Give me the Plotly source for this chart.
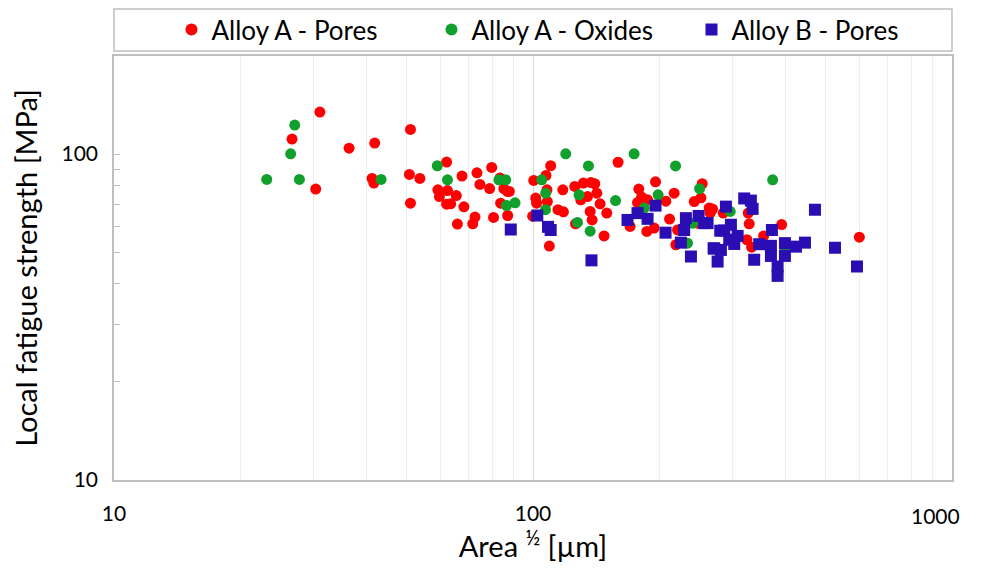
import plotly.graph_objects as go

# Alloy A - Pores (red)
a_pores_x = [31.0, 26.6, 30.3, 36.4, 41.9, 41.3, 41.7, 51.0, 50.7, 53.7, 51.0, 62.2, 59.3, 59.8, 62.5,
             62.2, 63.6, 65.6, 67.7, 68.4, 66.0, 73.5, 74.7, 72.7, 71.8, 79.7, 78.8, 80.5, 83.4, 85.2,
             87.8, 86.9, 83.7, 87.0, 100.4, 107.4, 110.2, 108.0, 101.5, 102.0, 108.2, 99.8, 109.4, 114.7,
             118.2, 117.8, 125.8, 126.3, 159.6, 131.9, 137.4, 140.4, 142.0, 130.0, 134.9, 144.6, 136.9,
             138.4, 150.0, 147.8, 178.9, 196.1, 217.2, 207.5, 177.6, 181.6, 187.7, 170.5, 186.9, 194.6,
             211.8, 221.3, 219.3, 253.4, 242.6, 251.6, 263.3, 264.8, 247.1, 268.3, 284.4, 326.3, 328.1,
             324.0, 332.4, 355.2, 392.1, 601.0]
a_pores_y = [134.6, 111.2, 78.1, 104.3, 108.1, 84.2, 81.5, 119.0, 86.6, 84.2, 70.7, 94.5, 77.7, 74.1, 77.3,
             70.2, 70.4, 74.6, 85.6, 68.9, 61.0, 87.6, 80.7, 64.1, 61.1, 91.0, 78.4, 63.9, 84.4, 78.3,
             76.8, 76.8, 70.7, 64.8, 83.0, 86.0, 92.1, 77.7, 73.3, 70.7, 71.5, 64.5, 52.2, 67.5,
             66.5, 77.7, 79.6, 61.1, 94.4, 81.5, 81.8, 81.1, 75.9, 72.4, 74.1, 70.4, 66.7,
             62.8, 65.9, 56.1, 78.1, 82.2, 75.9, 71.7, 71.0, 73.8, 72.4, 60.0, 57.9, 59.3,
             63.2, 58.5, 52.7, 81.1, 71.5, 73.4, 68.3, 65.9, 61.4, 67.8, 65.9, 65.9, 61.1,
             54.6, 51.8, 56.1, 60.8, 55.6]

# Alloy A - Oxides (green)
a_oxides_x = [27.0, 26.4, 23.15, 27.7, 43.4, 59.1, 62.5, 82.9, 86.1, 86.4, 90.6, 104.9, 107.2, 107.1,
              119.7, 127.7, 128.8, 174.3, 135.6, 218.9, 157.4, 136.9, 198.9, 249.8, 184.2, 233.8,
              373.2, 295.6, 399.3, 240.4]
a_oxides_y = [122.8, 100.2, 83.6, 83.6, 83.6, 92.1, 83.4, 83.4, 83.4, 69.5, 70.9, 83.4, 75.9, 67.5,
              100.2, 61.7, 75.0, 100.2, 92.0, 92.0, 72.0, 58.0, 75.0, 78.3, 68.3, 53.3,
              83.4, 66.7, 50.8, 61.4]

# Alloy B - Pores (blue)
b_pores_x = [88.5, 102.4, 108.6, 110.2, 137.9, 168.1, 177.6, 187.7, 196.1, 207.2, 231.7, 248.5, 256.2,
             261.0, 229.5, 225.4, 238.2, 269.8, 275.8, 279.8, 319.2, 331.1, 334.3, 288.7, 296.7, 286.0,
             307.9, 302.2, 294.0, 270.7, 280.8, 337.2, 346.7, 371.7, 369.7, 369.7, 383.5, 383.5,
             399.3, 399.3, 424.2, 445.7, 470.9, 525.7, 593.2]
b_pores_y = [58.7, 64.8, 59.8, 58.5, 47.2, 62.8, 65.9, 63.3, 69.5, 57.4, 63.6, 64.6, 61.4,
             61.4, 58.5, 53.5, 48.5, 51.4, 46.8, 58.2, 73.1, 72.0, 67.9, 69.0, 60.7, 58.3,
             56.1, 53.0, 54.6, 51.3, 50.8, 47.4, 52.9, 58.5, 52.3, 48.7, 45.2, 42.3,
             53.3, 48.7, 52.0, 53.5, 67.5, 51.6, 45.2]

x_major = [10, 100, 1000]
x_major_text = ["10", "100", ""]
x_last_label = "1000"
x_minor = [20, 30, 40, 50, 60, 70, 80, 90, 200, 300, 400, 500, 600, 700, 800, 900]
y_major = [10, 100]
y_major_text = ["10", "100"]
y_minor = [20, 30, 40, 50, 60, 70, 80, 90, 200]

FONT = "Lato, Liberation Sans, sans-serif"

fig = go.Figure()
fig.add_trace(go.Scatter(x=a_pores_x, y=a_pores_y, mode="markers", name="Alloy A - Pores",
                         marker=dict(color="#FF0000", size=11, symbol="circle")))
fig.add_trace(go.Scatter(x=a_oxides_x, y=a_oxides_y, mode="markers", name="Alloy A - Oxides",
                         marker=dict(color="#12A02C", size=11, symbol="circle")))
fig.add_trace(go.Scatter(x=b_pores_x, y=b_pores_y, mode="markers", name="Alloy B - Pores",
                         marker=dict(color="#2A0DB3", size=12, symbol="square")))

fig.update_layout(
    width=965, height=555,
    margin=dict(l=106, r=21, t=48, b=83, autoexpand=False),
    paper_bgcolor="white", plot_bgcolor="white",
    font=dict(family=FONT, size=20, color="black"),
    showlegend=True,
    legend=dict(orientation="h", x=0.534, xanchor="center", y=1.062, yanchor="middle",
                font=dict(size=26), bgcolor="rgba(0,0,0,0)", borderwidth=0,
                entrywidth=215, itemwidth=30, itemsizing="constant", tracegroupgap=0),
    xaxis=dict(type="log", range=[1, 3], tickmode="array", tickvals=x_major, ticktext=x_major_text,
               showgrid=True, gridcolor="#d9d9d9", gridwidth=1, ticks="",
               showline=True, linecolor="#bfbfbf", linewidth=1.5, mirror=True, zeroline=False,
               tickfont=dict(size=21), ticklabelstandoff=14,
               minor=dict(tickvals=x_minor, showgrid=True, gridcolor="#efefef", gridwidth=1, ticks=""),
               title=dict(text="Area <sup>½</sup> [µm]", font=dict(size=29), standoff=4)),
    yaxis=dict(type="log", range=[1, 2.301], tickmode="array", tickvals=y_major, ticktext=y_major_text,
               showgrid=False, ticks="inside", ticklen=6, tickcolor="#bfbfbf",
               showline=True, linecolor="#bfbfbf", linewidth=1.5, mirror=True, zeroline=False,
               tickfont=dict(size=21), ticklabelstandoff=10,
               minor=dict(tickvals=y_minor, ticks="inside", ticklen=6, tickcolor="#bfbfbf", showgrid=False),
               title=dict(text="Local fatigue strength [MPa]", font=dict(size=29), standoff=26)),
    shapes=[dict(type="rect", xref="paper", yref="paper", x0=0, x1=1, y0=1.0118, y1=1.111,
                 line=dict(color="#bfbfbf", width=1.5), fillcolor="white", layer="below")],
    annotations=[dict(text=x_last_label, xref="x", yref="paper", x=3, y=0, xanchor="center",
                      yanchor="top", xshift=-17, yshift=-21, showarrow=False,
                      font=dict(size=21, family=FONT, color="black"))],
)

fig.write_html("out.html")
